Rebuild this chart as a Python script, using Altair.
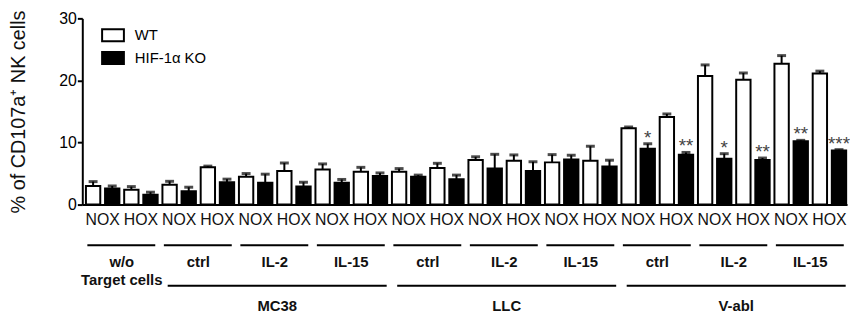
import altair as alt
import pandas as pd

# ---- data ----
groups = ["w/o\nTarget cells", "ctrl", "IL-2", "IL-15", "ctrl", "IL-2", "IL-15", "ctrl", "IL-2", "IL-15"]
conditions = ["NOX", "HOX"]
genotypes = ["WT", "HIF-1\u03b1 KO"]

wt_nox = [3.0, 3.2, 4.5, 5.65, 5.3, 7.2, 6.8, 12.3, 20.7, 22.7]
wt_nox_err = [0.7, 0.55, 0.5, 0.9, 0.5, 0.5, 1.25, 0.2, 1.8, 1.3]
ko_nox = [2.6, 2.15, 3.5, 3.5, 4.5, 5.8, 7.25, 9.0, 7.4, 10.2]
ko_nox_err = [0.4, 0.65, 1.4, 0.55, 0.25, 2.3, 0.7, 0.8, 0.8, 0.15]
wt_hox = [2.4, 6.0, 5.4, 5.3, 5.9, 7.05, 7.05, 14.1, 20.1, 21.1]
wt_hox_err = [0.5, 0.2, 1.3, 0.7, 0.75, 0.95, 2.35, 0.5, 1.1, 0.4]
ko_hox = [1.6, 3.6, 2.9, 4.6, 4.1, 5.4, 6.15, 8.05, 7.2, 8.7]
ko_hox_err = [0.4, 0.5, 0.7, 0.5, 0.65, 1.5, 1.0, 0.35, 0.3, 0.15]
ko_nox_sig = ["", "", "", "", "", "", "", "*", "*", "**"]
ko_hox_sig = ["", "", "", "", "", "", "", "**", "**", "***"]

tumours = ["MC38", "LLC", "V-abl"]
tumour_first_group = [1, 4, 7]
tumour_last_group = [3, 6, 9]

y_ticks = [0, 10, 20, 30]

# ---- build tables ----
series = {
    ("NOX", genotypes[0]): (wt_nox, wt_nox_err, [""] * 10),
    ("NOX", genotypes[1]): (ko_nox, ko_nox_err, ko_nox_sig),
    ("HOX", genotypes[0]): (wt_hox, wt_hox_err, [""] * 10),
    ("HOX", genotypes[1]): (ko_hox, ko_hox_err, ko_hox_sig),
}
rows = []
for gi in range(len(groups)):
    for ci, cond in enumerate(conditions):
        for ki, geno in enumerate(genotypes):
            vals, errs, sigs = series[(cond, geno)]
            idx = gi * 4 + ci * 2 + ki + 1
            rows.append(dict(idx=idx, x0=idx - 0.375, x1=idx + 0.375,
                             geno=geno, base=0.0, value=vals[gi], top=vals[gi] + errs[gi],
                             sig=sigs[gi]))
bars = pd.DataFrame(rows)

pairs = pd.DataFrame([dict(xc=gi * 4 + ci * 2 + 1.5, label=cond)
                      for gi in range(len(groups)) for ci, cond in enumerate(conditions)])
grp = pd.DataFrame([dict(xs=gi * 4 + 1 - 0.3, xe=gi * 4 + 4 + 0.25, xc=gi * 4 + 2.5,
                         label=g) for gi, g in enumerate(groups)])
tum = pd.DataFrame([dict(xs=f * 4 + 1 - 0.1, xe=l * 4 + 4 + 0.35,
                         xc=(f * 4 + 1 - 0.1 + l * 4 + 4 + 0.35) / 2, label=t)
                    for t, f, l in zip(tumours, tumour_first_group, tumour_last_group)])

W, H = 772, 188
xscale = alt.Scale(domain=[0.435, 40.42], nice=False, zero=False)
yscale = alt.Scale(domain=[0, 30], nice=False)

xaxis = alt.Axis(labels=False, ticks=False, grid=False, title=None,
                 domainColor="black", domainWidth=2)
yaxis = alt.Axis(values=y_ticks, grid=False, tickSize=5, tickWidth=2, tickColor="black",
                 domainColor="black", domainWidth=2, labelFontSize=16, labelColor="black",
                 labelPadding=1, title="% of CD107a\u207a NK cells", titleFontSize=20,
                 titleFontWeight="normal", titleColor="#111", titlePadding=31)

base = alt.Chart(bars)

bar_layer = base.mark_bar(stroke="black", strokeWidth=2).encode(
    x=alt.X("x0:Q", scale=xscale, axis=xaxis),
    x2="x1:Q",
    y=alt.Y("value:Q", scale=yscale, axis=yaxis),
    y2="base:Q",
    fill=alt.Fill("geno:N", sort=genotypes,
                  scale=alt.Scale(domain=genotypes, range=["white", "black"]),
                  legend=alt.Legend(title=None, orient="none", legendX=19, legendY=5,
                                    symbolType="M-1,-0.55H1V0.55H-1Z", symbolSize=484,
                                    symbolStrokeColor="black", symbolStrokeWidth=2,
                                    labelFontSize=15, labelOffset=10, rowPadding=0,
                                    padding=0, labelColor="black")),
)

err_layer = base.mark_rule(color="black", strokeWidth=2).encode(
    x="idx:Q", y="value:Q", y2="top:Q")
cap_layer = base.mark_tick(color="black", orient="horizontal", size=9, thickness=3).encode(
    x="idx:Q", y="top:Q")
star_layer = base.mark_text(fontSize=19, color="#444", baseline="alphabetic", dy=0).encode(
    x="idx:Q", y="top:Q", text="sig:N")

pair_layer = alt.Chart(pairs).mark_text(fontSize=16, color="#111", baseline="middle").encode(
    x="xc:Q", y=alt.value(H + 16), text="label:N")
grp_line = alt.Chart(grp).mark_rule(color="black", strokeWidth=2).encode(
    x="xs:Q", x2="xe:Q", y=alt.value(H + 41))
grp_text = alt.Chart(grp).mark_text(fontSize=15, fontWeight="bold", color="#111",
                                    baseline="top", lineBreak="\n", lineHeight=18).encode(
    x="xc:Q", y=alt.value(H + 51), text="label:N")
tum_line = alt.Chart(tum).mark_rule(color="black", strokeWidth=2).encode(
    x="xs:Q", x2="xe:Q", y=alt.value(H + 82))
tum_text = alt.Chart(tum).mark_text(fontSize=15, fontWeight="bold", color="#111",
                                    baseline="middle").encode(
    x="xc:Q", y=alt.value(H + 102), text="label:N")

chart = alt.layer(bar_layer, err_layer, cap_layer, star_layer, pair_layer, grp_line,
                  grp_text, tum_line, tum_text).properties(
    width=W, height=H, padding={"left": 0, "top": 0, "right": 0, "bottom": 0}
).configure(font="Liberation Sans").configure_view(stroke=None)

chart.save("out.html", embed_options={"renderer": "svg", "actions": False})
